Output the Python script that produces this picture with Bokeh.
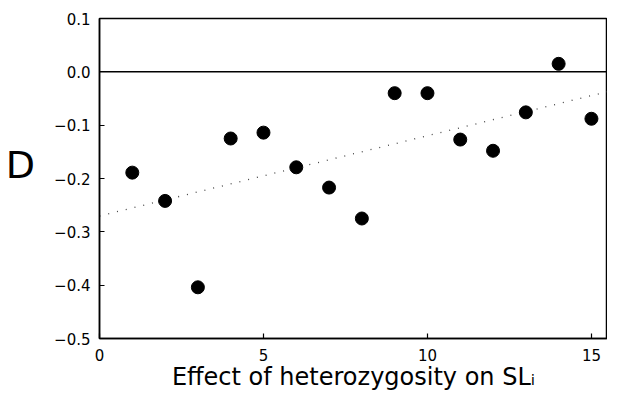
import numpy as np
from bokeh.plotting import figure
from bokeh.models import Span, FixedTicker, CustomJSTickFormatter, Range1d
from bokeh.embed import file_html
from bokeh.resources import INLINE

# data
effect = [1, 2, 3, 4, 5, 6, 7, 8, 9, 10, 11, 12, 13, 14, 15]
D_values = [-0.189, -0.242, -0.404, -0.125, -0.114, -0.179, -0.217, -0.275,
            -0.040, -0.040, -0.127, -0.148, -0.076, 0.015, -0.088]
x_ticks = [0, 5, 10, 15]
y_ticks = [0.1, 0.0, -0.1, -0.2, -0.3, -0.4, -0.5]
x_lo, x_hi = 0, 15.49
y_lo, y_hi = -0.5, 0.1

FONT = "DejaVu Sans"
W, H = 607, 393

p = figure(width=W, height=H, output_backend="svg", toolbar_location=None,
           x_range=Range1d(x_lo, x_hi), y_range=Range1d(y_lo, y_hi),
           min_border_left=99, min_border_right=0, min_border_top=18,
           min_border_bottom=51)
p.grid.visible = False
p.outline_line_color = "black"
p.outline_line_width = 1.5
p.background_fill_color = "white"
p.border_fill_color = "white"

minus_fmt = CustomJSTickFormatter(code="""
    const s = tick.toFixed(1);
    return s.replace('-', '\u2212');
""")

for ax in p.yaxis:
    ax.ticker = FixedTicker(ticks=y_ticks)
    ax.formatter = minus_fmt
for ax in p.xaxis:
    ax.ticker = FixedTicker(ticks=x_ticks)

for ax in p.axis:
    ax.major_tick_in = 5
    ax.major_tick_out = 0
    ax.minor_tick_in = 0
    ax.minor_tick_out = 0
    ax.axis_line_width = 1.5
    ax.major_tick_line_width = 1.2
    ax.major_label_text_font = FONT
    ax.major_label_text_font_size = "15px"
    ax.major_label_text_color = "black"
    ax.axis_label_text_font = FONT
    ax.axis_label_text_font_style = "normal"
    ax.axis_label_text_color = "black"

p.yaxis.major_label_standoff = 9
p.yaxis.axis_label = "D\n "
p.yaxis.axis_label_orientation = "horizontal"
p.yaxis.axis_label_text_font_size = "38px"
p.yaxis.axis_label_text_line_height = 0.6
p.yaxis.axis_label_standoff = 16

p.xaxis.major_label_standoff = 10
p.xaxis.axis_label = "Effect of heterozygosity on SL\u1d62"
p.xaxis.axis_label_text_font_size = "24px"
p.xaxis.axis_label_standoff = -1

# regression line (least squares fit of the data)
slope, intercept = np.polyfit(effect, D_values, 1)
fit_x = [x_lo, x_hi]
fit_y = [intercept + slope * v for v in fit_x]
p.line(fit_x, fit_y, line_color="#444444", line_width=1.3, line_dash="1 8")

# zero line
p.add_layout(Span(location=0.0, dimension="width", line_color="black", line_width=1.5))

p.scatter(effect, D_values, size=13, marker="circle", fill_color="black", line_color="black")

open("out.html", "w").write(file_html(p, INLINE))
